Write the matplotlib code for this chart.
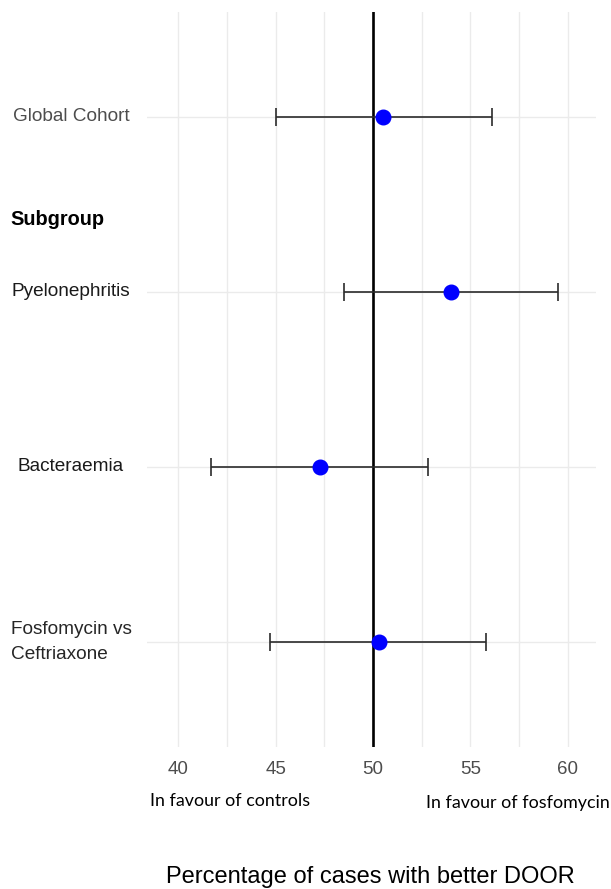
import numpy as np
import matplotlib
matplotlib.use("Agg")
import matplotlib.pyplot as plt

# data
groups = ["Global Cohort", "Pyelonephritis", "Bacteraemia", "Fosfomycin vs\nCeftriaxone"]
estimate = [50.5, 54.0, 47.3, 50.3]
ci_low = [45.0, 48.5, 41.7, 44.7]
ci_high = [56.1, 59.5, 52.8, 55.8]
label_colors = ["#4d4d4d", "#1a1a1a", "#1a1a1a", "#262626"]
x_ticks = [40, 45, 50, 55, 60]

plt.rcParams["font.family"] = ["Liberation Sans", "DejaVu Sans"]

fig = plt.figure(figsize=(6.11, 8.89), dpi=100)
W, H = 611, 889
ax = fig.add_axes([147 / W, 1 - 747 / H, (596 - 147) / W, (747 - 12) / H])

ypos = np.arange(len(groups), 0, -1)  # top row gets largest y
est = np.array(estimate)
lo = est - np.array(ci_low)
hi = np.array(ci_high) - est

ax.set_xlim(38.4, 61.45)
ax.set_ylim(0.4, len(groups) + 0.6)

# grid like theme_minimal
for x in np.arange(40, 61, 2.5):
    ax.axvline(x, color="#ebebeb", lw=1.0, zorder=0)
for y in ypos:
    ax.axhline(y, color="#ebebeb", lw=1.0, zorder=0)

ax.axvline(50, color="black", lw=1.9, zorder=2)

ax.errorbar(est, ypos, xerr=[lo, hi], fmt="none", ecolor="#2b2b2b",
            elinewidth=1.2, capsize=6.8, capthick=1.2, zorder=3)
ax.plot(est, ypos, "o", color="#0000ff", markersize=10.5, zorder=4)

ax.set_xticks(x_ticks)
ax.set_xticklabels([str(t) for t in x_ticks], fontsize=13.5, color="#4d4d4d")
ax.tick_params(axis="x", length=0, pad=10)
ax.set_yticks([])
for s in ax.spines.values():
    s.set_visible(False)

# row labels on the left
for g, y, c in zip(groups, ypos, label_colors):
    yf = ax.transData.transform((0, y))[1] / (H)
    fig.text(71 / W, yf, g, ha="center", va="center", multialignment="left",
             fontsize=13.7, color=c, linespacing=1.6)

y_sub = ax.transData.transform((0, ypos[0] - 0.585))[1] / H
fig.text(10 / W, y_sub, "Subgroup", ha="left", va="center",
         fontsize=14.3, fontweight="bold", color="black")

# direction notes and axis title
fig.text(150 / W, 1 - 801 / H, "In favour of controls", ha="left", va="center",
         fontsize=12.9, family=["Lato", "DejaVu Sans"], color="black")
fig.text(426 / W, 1 - 803 / H, "In favour of fosfomycin", ha="left", va="center",
         fontsize=12.9, family=["Lato", "DejaVu Sans"], color="black")
fig.text(370 / W, 1 - 877 / H, "Percentage of cases with better DOOR",
         ha="center", va="center", fontsize=17, color="black")

fig.savefig("out.png", dpi=100)
